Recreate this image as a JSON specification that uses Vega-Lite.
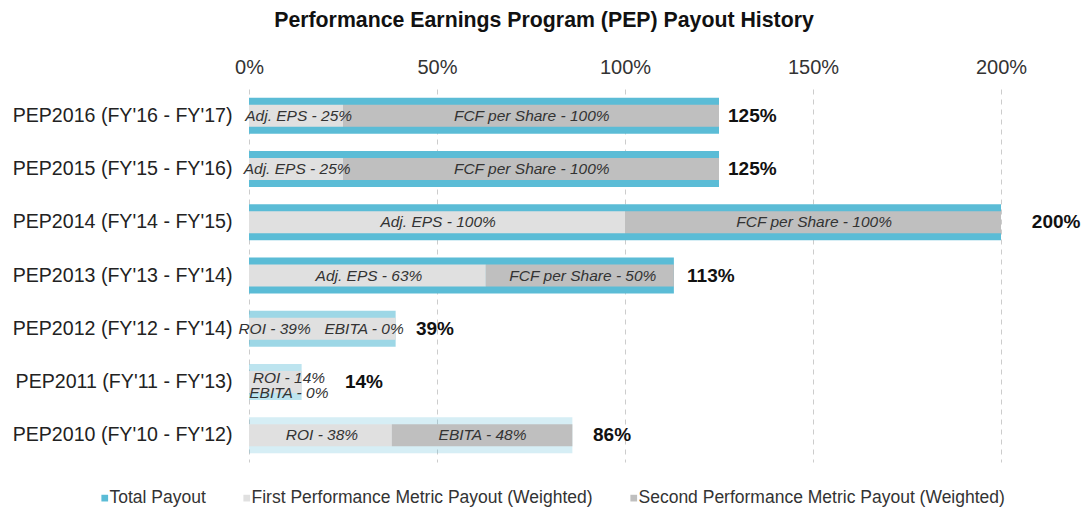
{
  "$schema": "https://vega.github.io/schema/vega-lite/v6.json",
  "width": 752,
  "height": 373,
  "autosize": {"type": "none"},
  "padding": {"left": 249, "top": 89, "right": 84, "bottom": 51},
  "background": "white",
  "config": {
    "font": "Liberation Sans",
    "view": {"stroke": null}
  },
  "title": {
    "text": "Performance Earnings Program (PEP) Payout History",
    "fontSize": 21.3,
    "fontWeight": "bold",
    "color": "#111111",
    "anchor": "middle",
    "dx": -81,
    "offset": 26
  },
  "datasets": {
    "totals": [
      {"program": "PEP2016 (FY'16 - FY'17)", "total": 125, "text": "125%", "labelAt": 127.4},
      {"program": "PEP2015 (FY'15 - FY'16)", "total": 125, "text": "125%", "labelAt": 127.4},
      {"program": "PEP2014 (FY'14 - FY'15)", "total": 200, "text": "200%", "labelAt": 208.2},
      {"program": "PEP2013 (FY'13 - FY'14)", "total": 113, "text": "113%", "labelAt": 116.5},
      {"program": "PEP2012 (FY'12 - FY'14)", "total": 39, "text": "39%", "labelAt": 44.4},
      {"program": "PEP2011 (FY'11 - FY'13)", "total": 14, "text": "14%", "labelAt": 25.5},
      {"program": "PEP2010 (FY'10 - FY'12)", "total": 86, "text": "86%", "labelAt": 91.5}
    ],
    "segments": [
      {"program": "PEP2016 (FY'16 - FY'17)", "metric": "First Performance Metric Payout (Weighted)", "start": 0, "end": 25},
      {"program": "PEP2016 (FY'16 - FY'17)", "metric": "Second Performance Metric Payout (Weighted)", "start": 25, "end": 125},
      {"program": "PEP2015 (FY'15 - FY'16)", "metric": "First Performance Metric Payout (Weighted)", "start": 0, "end": 25},
      {"program": "PEP2015 (FY'15 - FY'16)", "metric": "Second Performance Metric Payout (Weighted)", "start": 25, "end": 125},
      {"program": "PEP2014 (FY'14 - FY'15)", "metric": "First Performance Metric Payout (Weighted)", "start": 0, "end": 100},
      {"program": "PEP2014 (FY'14 - FY'15)", "metric": "Second Performance Metric Payout (Weighted)", "start": 100, "end": 200},
      {"program": "PEP2013 (FY'13 - FY'14)", "metric": "First Performance Metric Payout (Weighted)", "start": 0, "end": 63},
      {"program": "PEP2013 (FY'13 - FY'14)", "metric": "Second Performance Metric Payout (Weighted)", "start": 63, "end": 113},
      {"program": "PEP2012 (FY'12 - FY'14)", "metric": "First Performance Metric Payout (Weighted)", "start": 0, "end": 39},
      {"program": "PEP2012 (FY'12 - FY'14)", "metric": "Second Performance Metric Payout (Weighted)", "start": 39, "end": 39},
      {"program": "PEP2011 (FY'11 - FY'13)", "metric": "First Performance Metric Payout (Weighted)", "start": 0, "end": 14},
      {"program": "PEP2011 (FY'11 - FY'13)", "metric": "Second Performance Metric Payout (Weighted)", "start": 14, "end": 14},
      {"program": "PEP2010 (FY'10 - FY'12)", "metric": "First Performance Metric Payout (Weighted)", "start": 0, "end": 38},
      {"program": "PEP2010 (FY'10 - FY'12)", "metric": "Second Performance Metric Payout (Weighted)", "start": 38, "end": 86}
    ],
    "labels": [
      {"program": "PEP2016 (FY'16 - FY'17)", "text": "Adj. EPS - 25%", "at": 13.2},
      {"program": "PEP2016 (FY'16 - FY'17)", "text": "FCF per Share - 100%", "at": 75.2},
      {"program": "PEP2015 (FY'15 - FY'16)", "text": "Adj. EPS - 25%", "at": 12.8},
      {"program": "PEP2015 (FY'15 - FY'16)", "text": "FCF per Share - 100%", "at": 75.2},
      {"program": "PEP2014 (FY'14 - FY'15)", "text": "Adj. EPS - 100%", "at": 50.3},
      {"program": "PEP2014 (FY'14 - FY'15)", "text": "FCF per Share - 100%", "at": 150.3},
      {"program": "PEP2013 (FY'13 - FY'14)", "text": "Adj. EPS - 63%", "at": 31.9},
      {"program": "PEP2013 (FY'13 - FY'14)", "text": "FCF per Share - 50%", "at": 88.8},
      {"program": "PEP2012 (FY'12 - FY'14)", "text": "ROI - 39%", "at": 6.8},
      {"program": "PEP2012 (FY'12 - FY'14)", "text": "EBITA - 0%", "at": 30.6},
      {"program": "PEP2011 (FY'11 - FY'13)", "text": "ROI - 14%\nEBITA - 0%", "at": 10.6},
      {"program": "PEP2010 (FY'10 - FY'12)", "text": "ROI - 38%", "at": 19.4},
      {"program": "PEP2010 (FY'10 - FY'12)", "text": "EBITA - 48%", "at": 62.1}
    ]
  },
  "encoding": {
    "y": {
      "field": "program",
      "type": "nominal",
      "scale": {
        "domain": [
          "PEP2016 (FY'16 - FY'17)",
          "PEP2015 (FY'15 - FY'16)",
          "PEP2014 (FY'14 - FY'15)",
          "PEP2013 (FY'13 - FY'14)",
          "PEP2012 (FY'12 - FY'14)",
          "PEP2011 (FY'11 - FY'13)",
          "PEP2010 (FY'10 - FY'12)"
        ],
        "paddingInner": 0.3,
        "paddingOuter": 0.15
      },
      "axis": {
        "title": null,
        "domain": false,
        "ticks": false,
        "labelFontSize": 19.6,
        "labelColor": "#222222",
        "labelPadding": 17,
        "labelLimit": 400,
        "labelFont": "Liberation Sans"
      }
    }
  },
  "layer": [
    {
      "data": {"name": "totals"},
      "mark": {"type": "bar", "size": 36},
      "encoding": {
        "x": {
          "field": "total",
          "type": "quantitative",
          "scale": {"domain": [0, 200], "nice": false},
          "axis": {
            "orient": "top",
            "title": null,
            "values": [0, 50, 100, 150, 200],
            "labelExpr": "datum.value + '%'",
            "labelFlush": false,
            "domain": false,
            "ticks": false,
            "grid": true,
            "gridDash": [5, 5],
            "gridColor": "#cccccc",
            "gridWidth": 1,
            "labelFontSize": 20,
            "labelColor": "#333333",
            "labelPadding": 12,
            "labelFont": "Liberation Sans"
          }
        },
        "x2": {"datum": 0},
        "color": {
          "datum": "Total Payout",
          "type": "nominal",
          "title": null,
          "scale": {
            "domain": ["Total Payout", "First Performance Metric Payout (Weighted)", "Second Performance Metric Payout (Weighted)"],
            "range": ["#5bbcd6", "#e0e0e0", "#bfbfbf"]
          },
          "legend": {
            "title": null,
            "orient": "none",
            "direction": "horizontal",
            "legendX": -153,
            "legendY": 400,
            "symbolType": "square",
            "symbolSize": 45,
            "symbolStrokeWidth": 0,
            "labelFontSize": 17.5,
            "labelColor": "#333333",
            "labelFont": "Liberation Sans",
            "labelOffset": -4,
            "columnPadding": 32,
            "labelLimit": 500
          }
        },
        "opacity": {
          "condition": [
            {"test": "indexof(datum.program, 'PEP2012') == 0", "value": 0.6},
            {"test": "indexof(datum.program, 'PEP2011') == 0", "value": 0.4},
            {"test": "indexof(datum.program, 'PEP2010') == 0", "value": 0.25}
          ],
          "value": 1
        }
      }
    },
    {
      "data": {"name": "segments"},
      "mark": {"type": "bar", "size": 22},
      "encoding": {
        "x": {"field": "start", "type": "quantitative"},
        "x2": {"field": "end"},
        "color": {"field": "metric", "type": "nominal", "title": null}
      }
    },
    {
      "data": {"name": "labels"},
      "transform": [{"filter": "indexof(datum.program, 'PEP2011') != 0"}],
      "mark": {
        "type": "text",
        "fontSize": 15.5,
        "fontStyle": "italic",
        "color": "#333333",
        "align": "center",
        "baseline": "middle",
        "font": "Liberation Sans"
      },
      "encoding": {
        "x": {"field": "at", "type": "quantitative"},
        "text": {"field": "text"}
      }
    },
    {
      "data": {"name": "labels"},
      "transform": [{"filter": "indexof(datum.program, 'PEP2011') == 0"}],
      "mark": {
        "type": "text",
        "fontSize": 15.5,
        "fontStyle": "italic",
        "color": "#333333",
        "align": "center",
        "baseline": "middle",
        "lineBreak": "\n",
        "lineHeight": 15,
        "dy": -4,
        "font": "Liberation Sans"
      },
      "encoding": {
        "x": {"field": "at", "type": "quantitative"},
        "text": {"field": "text"}
      }
    },
    {
      "data": {"name": "totals"},
      "mark": {
        "type": "text",
        "fontSize": 19,
        "fontWeight": "bold",
        "color": "#111111",
        "align": "left",
        "baseline": "middle",
        "font": "Liberation Sans"
      },
      "encoding": {
        "x": {"field": "labelAt", "type": "quantitative"},
        "text": {"field": "text"}
      }
    }
  ]
}
